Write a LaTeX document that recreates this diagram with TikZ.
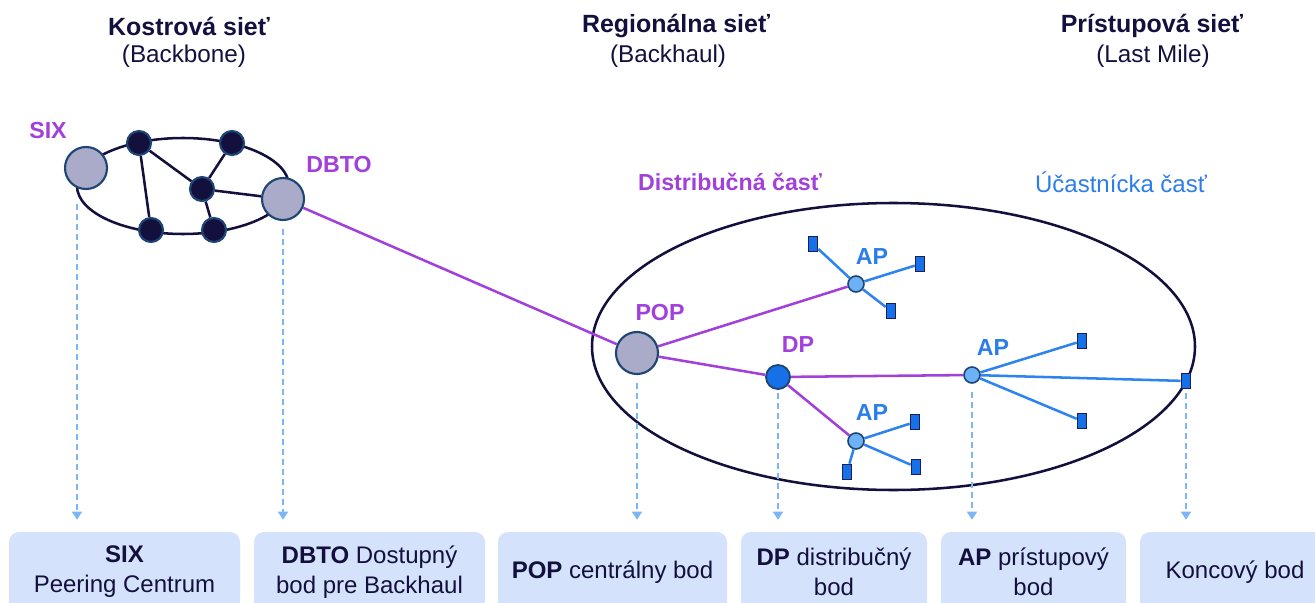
\documentclass[tikz,border=0pt]{standalone}
\usepackage{fontspec}
\setmainfont{Liberation Sans}
\usetikzlibrary{arrows.meta}
\definecolor{navy}{HTML}{13103E}
\definecolor{violet}{HTML}{A140DB}
\definecolor{apblue}{HTML}{2B7DE9}
\definecolor{linkblue}{HTML}{2D84EE}
\definecolor{dropblue}{HTML}{7CB6F6}
\definecolor{boxfill}{HTML}{D4E3FB}
\definecolor{nodegrey}{HTML}{A9ABC8}
\definecolor{nodeedge}{HTML}{1E4674}
\definecolor{dpfill}{HTML}{1670E8}
\definecolor{apfill}{HTML}{6DB1F7}
\definecolor{termedge}{HTML}{1B1E5C}

\begin{document}
\begin{tikzpicture}
  [x=0.75pt,y=-0.75pt,every node/.style={inner sep=0pt},
   title/.style={font=\fontsize{18.7}{20}\selectfont\bfseries,text=navy},
   subtitle/.style={font=\fontsize{18.2}{20}\selectfont,text=navy},
   lbl/.style={font=\fontsize{17.4}{19}\selectfont\bfseries},
   ring/.style={draw=navy,line width=1.9pt},
   bignode/.style={circle,draw=nodeedge,line width=1.6pt,fill=nodegrey,minimum size=31.5pt},
   core/.style={circle,draw=nodeedge,line width=1.6pt,fill=navy,minimum size=18pt},
   dpnode/.style={circle,draw=nodeedge,line width=1.4pt,fill=dpfill,minimum size=18pt},
   apnode/.style={circle,draw=nodeedge,line width=1.2pt,fill=apfill,minimum size=12pt},
   term/.style={rectangle,draw=termedge,line width=1pt,fill=dpfill,minimum width=7pt,minimum height=11.5pt},
   infobox/.style={rounded corners=7.5pt,fill=boxfill,minimum height=60pt,align=center,
     font=\fontsize{18}{22.5}\selectfont,text=navy},
   drop/.style={draw=dropblue,line width=1.1pt,dash pattern=on 4.5pt off 3pt,
     -{Triangle[width=7.5pt,length=6pt]},shorten >=9pt}]
  \clip (0,0) rectangle (1315,603);

  % headings
  \node[title]    (h1) at (189,26)  {Kostrová sieť};
  \node[subtitle] (s1) at (184,56)  {(Backbone)};
  \node[title]    (h2) at (676,26)  {Regionálna sieť};
  \node[subtitle] (s2) at (668,56)  {(Backhaul)};
  \node[title]    (h3) at (1152,26) {Prístupová sieť};
  \node[subtitle] (s3) at (1153,56) {(Last Mile)};

  % rings
  \draw[ring] (183,186) ellipse [x radius=106, y radius=48];
  \draw[ring] (893.5,346.5) ellipse [x radius=301.5, y radius=143.5];

  % backbone
  \node[bignode] (six)  at (86,168)  {};
  \node[bignode] (dbto) at (283,199) {};
  \node[core] (c1) at (139,143) {};
  \node[core] (c2) at (232,143) {};
  \node[core] (c3) at (202,189) {};
  \node[core] (c4) at (151,230) {};
  \node[core] (c5) at (214,230) {};

  % regional and access part
  \node[bignode] (pop) at (637,353) {};
  \node[dpnode]  (dp)  at (778,377) {};
  \node[apnode]  (ap1) at (856,284) {};
  \node[apnode]  (ap2) at (856,441) {};
  \node[apnode]  (ap3) at (972,375) {};
  \node[term] (t1) at (813,244)  {};
  \node[term] (t2) at (920,264)  {};
  \node[term] (t3) at (891,311)  {};
  \node[term] (t4) at (915,422)  {};
  \node[term] (t5) at (916,467)  {};
  \node[term] (t6) at (847,472)  {};
  \node[term] (t7) at (1082,341) {};
  \node[term] (t8) at (1082,421) {};
  \node[term] (t9) at (1186,381) {};

\foreach \from/\to in {c1/c4, c1/c3, c2/c3, c3/c5, c3/dbto}
    \draw[navy,line width=1.9pt] (\from) -- (\to);
\foreach \from/\to in {dbto/pop, pop/ap1, pop/dp, dp/ap2, dp/ap3}
    \draw[violet,line width=1.9pt] (\from) -- (\to);
\foreach \from/\to in {ap1/t1, ap1/t2, ap1/t3, ap2/t4, ap2/t5, ap2/t6, ap3/t7, ap3/t8, ap3/t9}
    \draw[linkblue,line width=1.9pt] (\from) -- (\to);

  % labels
  \node[lbl,text=violet] (l1) at (48,131)  {SIX};
  \node[lbl,text=violet] (l2) at (339,165) {DBTO};
  \node[lbl,text=violet] (l3) at (660,313) {POP};
  \node[lbl,text=violet] (l4) at (798,345) {DP};
  \node[lbl,text=apblue] (l5) at (872,257) {AP};
  \node[lbl,text=apblue] (l6) at (872,413) {AP};
  \node[lbl,text=apblue] (l7) at (993,348) {AP};
  \node[lbl,text=violet] (l8) at (730,182) {Distribučná časť};
  \node[font=\fontsize{18}{19}\selectfont,text=apblue] (l9) at (1121,182) {Účastnícka časť};

  % legend boxes
  \node[infobox,minimum width=173.25pt] (b1) at (124.5,572) {\textbf{SIX}\\Peering Centrum};
  \node[infobox,minimum width=173.25pt] (b2) at (369.5,572) {\textbf{DBTO} Dostupný\\bod pre Backhaul};
  \node[infobox,minimum width=171.75pt] (b3) at (612.5,572) {\textbf{POP} centrálny bod};
  \node[infobox,minimum width=139.5pt]  (b4) at (834,572)   {\textbf{DP} distribučný\\bod};
  \node[infobox,minimum width=138.75pt] (b5) at (1033.5,572) {\textbf{AP} prístupový\\bod};
  \node[infobox,minimum width=142.5pt]  (b6) at (1235,572)  {Koncový bod};

  % drop lines
  \coordinate (q1) at (77,204);
  \coordinate (q2) at (283,229);
  \coordinate (q3) at (637,383);
  \coordinate (q4) at (778,393);
  \coordinate (q5) at (972,392);
  \coordinate (q6) at (1186,393);
\foreach \i in {1,...,6}
    \draw[drop] (q\i) -- (q\i |- b\i.north);
\end{tikzpicture}
\end{document}
